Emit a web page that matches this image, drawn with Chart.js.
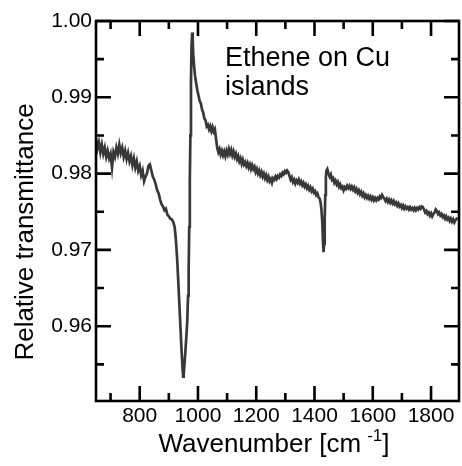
<!DOCTYPE html>
<html>
<head>
<meta charset="utf-8">
<script src="https://cdn.jsdelivr.net/npm/chart.js@4"></script>
<style>
  html, body { margin: 0; padding: 0; background: #fff; }
  #chart { display: block; }
</style>
</head>
<body>
<canvas id="chart" width="462" height="466"></canvas>
<script>
// Spectrum, split into stretches (wavenumber in cm-1, relative transmittance)
const wnLow = [650,655,660,665,670,675,680,685,690,695,
    700,705,710,715,720,725,730,735,740,745,
    750,755,760,765,770,775,780,785,790,795,
    800,805,810,815,820,825,830,835,840,845,
    850,855,860,865,870];
const trLow = [0.9846,0.9833,0.9841,0.9828,0.9838,0.9826,0.9834,0.9822,0.9830,0.9820,
    0.9826,0.9808,0.9828,0.9822,0.9834,0.9826,0.9838,0.9827,0.9834,0.9822,
    0.9830,0.9819,0.9827,0.9816,0.9823,0.9811,0.9820,0.9808,0.9816,0.9804,
    0.9810,0.9798,0.9804,0.9790,0.9796,0.9800,0.9810,0.9812,0.9804,0.9796,
    0.9792,0.9786,0.9778,0.9774,0.9766];

// the big derivative-shaped band around 950-980
const wnBand = [875,880,885,890,895,900,905,910,915,920,
    924,928,932,936,940,944,947,949,951,954,
    957,960,963,966,968,970,972,974,976,978,
    980,982,984,987,990,994,998];
const trBand = [0.9760,0.9757,0.9752,0.9754,0.9746,0.9744,0.9741,0.9740,0.9737,0.9730,
    0.9714,0.9692,0.9662,0.9630,0.9598,0.9566,0.9545,0.9534,0.9537,0.9552,
    0.9568,0.9586,0.9605,0.9640,0.9672,0.9730,0.9790,0.9850,0.9920,0.9968,
    0.9985,0.9975,0.9955,0.9940,0.9928,0.9918,0.9909];

const wnMid = [1002,1006,1010,1014,1018,1022,1026,1030,1034,1038,
    1042,1046,1050,1054,1058,1062,1066,1070,1074,1078,
    1082,1086,1090,1094,1098,1102,1106,1110,1114,1118,
    1122,1126,1130,1134,1138,1142,1146,1150,1154,1158,
    1162,1166,1170,1174,1178,1182,1186,1190,1194,1198,
    1202,1206,1210,1214,1218,1222,1226,1230,1234,1238,
    1242,1246,1250,1254,1258,1262,1266,1270,1274,1278,
    1282,1286,1290,1294,1298,1302,1306,1310,1314,1318,
    1322,1326,1330,1334,1338,1342,1346,1350,1354,1358,
    1362,1366,1370,1374,1378,1382,1386,1390,1394,1398,
    1402,1406,1410,1414,1418];
const trMid = [0.9902,0.9895,0.9892,0.9884,0.9880,0.9872,0.9870,0.9862,0.9864,0.9858,
    0.9862,0.9856,0.9861,0.9855,0.9858,0.9846,0.9834,0.9828,0.9832,0.9825,
    0.9830,0.9824,0.9829,0.9823,0.9830,0.9825,0.9832,0.9826,0.9831,0.9824,
    0.9829,0.9822,0.9826,0.9819,0.9823,0.9816,0.9820,0.9813,0.9818,0.9812,
    0.9815,0.9810,0.9814,0.9808,0.9812,0.9806,0.9811,0.9806,0.9809,0.9802,
    0.9806,0.9800,0.9804,0.9798,0.9802,0.9796,0.9800,0.9794,0.9798,0.9792,
    0.9796,0.9790,0.9793,0.9788,0.9794,0.9792,0.9796,0.9793,0.9797,0.9795,
    0.9799,0.9797,0.9801,0.9799,0.9803,0.9801,0.9804,0.9802,0.9797,0.9792,
    0.9795,0.9789,0.9792,0.9787,0.9791,0.9788,0.9792,0.9787,0.9790,0.9785,
    0.9788,0.9783,0.9786,0.9781,0.9784,0.9779,0.9782,0.9777,0.9780,0.9775,
    0.9777,0.9772,0.9774,0.9769,0.9767];

// sharp dip near 1430
const wnDip = [1421,1424,1427,1429,1431,1433,1435,1437,1439,1441];
const trDip = [0.9762,0.9752,0.9735,0.9712,0.9697,0.9708,0.9740,0.9772,0.9795,0.9804];

const wnHigh = [1444,1448,1452,1456,1460,1464,1468,1472,1476,1480,
    1484,1488,1492,1496,1500,1504,1508,1512,1516,1520,
    1524,1528,1532,1536,1540,1544,1548,1552,1556,1560,
    1564,1568,1572,1576,1580,1584,1588,1592,1596,1600,
    1604,1608,1612,1616,1620,1624,1628,1632,1636,1640,
    1644,1648,1652,1656,1660,1664,1668,1672,1676,1680,
    1684,1688,1692,1696,1700,1704,1708,1712,1716,1720,
    1724,1728,1732,1736,1740,1744,1748,1752,1756,1760,
    1764,1768,1772,1776,1780,1784,1788,1792,1796,1800,
    1804,1808,1812,1816,1820,1824,1828,1832,1836,1840,
    1844,1848,1852,1856,1860,1864,1868,1872,1876,1880,
    1884,1888,1892];
const trHigh = [0.9806,0.9800,0.9796,0.9799,0.9792,0.9794,0.9788,0.9791,0.9786,0.9789,
    0.9783,0.9786,0.9781,0.9783,0.9778,0.9782,0.9780,0.9784,0.9781,0.9784,
    0.9780,0.9783,0.9779,0.9782,0.9777,0.9780,0.9775,0.9778,0.9773,0.9776,
    0.9771,0.9774,0.9769,0.9772,0.9768,0.9771,0.9767,0.9770,0.9766,0.9769,
    0.9765,0.9768,0.9765,0.9768,0.9766,0.9770,0.9768,0.9772,0.9769,0.9767,
    0.9764,0.9767,0.9763,0.9766,0.9762,0.9765,0.9761,0.9764,0.9760,0.9762,
    0.9758,0.9761,0.9757,0.9759,0.9755,0.9758,0.9754,0.9757,0.9754,0.9756,
    0.9753,0.9756,0.9753,0.9755,0.9752,0.9755,0.9752,0.9755,0.9753,0.9756,
    0.9754,0.9757,0.9756,0.9753,0.9749,0.9751,0.9747,0.9749,0.9745,0.9748,
    0.9744,0.9747,0.9749,0.9753,0.9751,0.9747,0.9749,0.9745,0.9747,0.9743,
    0.9745,0.9741,0.9744,0.9740,0.9742,0.9738,0.9741,0.9737,0.9740,0.9736,
    0.9739,0.9741,0.9742];

// axis ticks
const xMajorTicks = [800, 1000, 1200, 1400, 1600, 1800];
const xMinorTicks = [700, 900, 1100, 1300, 1500, 1700];
const yMajorTicks = [0.96, 0.97, 0.98, 0.99, 1.00];
const yMinorTicks = [0.955, 0.965, 0.975, 0.985, 0.995];

const FONT = "'Liberation Sans', Arial, Helvetica, sans-serif";

const wavenumber = [].concat(wnLow, wnBand, wnMid, wnDip, wnHigh);
const transmittance = [].concat(trLow, trBand, trMid, trDip, trHigh);
const points = wavenumber.map((x, i) => ({ x: x, y: transmittance[i] }));

// box around the plot with inward ticks on all four sides, plus the texts
const frameAndText = {
    id: 'frameAndText',
    afterDatasetsDraw(chart) {
        const ctx = chart.ctx;
        const a = chart.chartArea;
        const xs = chart.scales.x;
        const ys = chart.scales.y;
        ctx.save();
        ctx.strokeStyle = '#000';
        ctx.lineWidth = 2.6;
        ctx.strokeRect(a.left, a.top, a.right - a.left, a.bottom - a.top);

        ctx.beginPath();
        const xTick = (v, len) => {
            const px = xs.getPixelForValue(v);
            ctx.moveTo(px, a.bottom); ctx.lineTo(px, a.bottom - len);
            ctx.moveTo(px, a.top); ctx.lineTo(px, a.top + len);
        };
        const yTick = (v, len) => {
            const py = ys.getPixelForValue(v);
            ctx.moveTo(a.left, py); ctx.lineTo(a.left + len, py);
            ctx.moveTo(a.right, py); ctx.lineTo(a.right - len, py);
        };
        xMajorTicks.forEach(v => xTick(v, 15));
        xMinorTicks.forEach(v => xTick(v, 8));
        yMajorTicks.forEach(v => yTick(v, 15));
        yMinorTicks.forEach(v => yTick(v, 8));
        ctx.stroke();

        ctx.fillStyle = '#000';
        ctx.textBaseline = 'alphabetic';
        ctx.textAlign = 'left';

        // annotation
        ctx.font = '27px ' + FONT;
        ctx.fillText('Ethene on Cu', 225, 66);
        ctx.fillText('islands', 225, 95);

        // y title
        ctx.save();
        ctx.translate(33, 232);
        ctx.rotate(-Math.PI / 2);
        ctx.textAlign = 'center';
        ctx.font = '26px ' + FONT;
        ctx.fillText('Relative transmittance', 0, 0);
        ctx.restore();

        // x title with superscript
        ctx.font = '26px ' + FONT;
        const main = 'Wavenumber [cm';
        const sup = '-1';
        const close = ']';
        const wMain = ctx.measureText(main).width;
        ctx.font = '17px ' + FONT;
        const wSup = ctx.measureText(sup).width;
        ctx.font = '26px ' + FONT;
        const wClose = ctx.measureText(close).width;
        const gap = 6;
        const total = wMain + gap + wSup + wClose;
        let tx = 274 - total / 2;
        const base = 452;
        ctx.fillText(main, tx, base);
        tx += wMain + gap;
        ctx.font = '17px ' + FONT;
        ctx.fillText(sup, tx, base - 11);
        tx += wSup;
        ctx.font = '26px ' + FONT;
        ctx.fillText(close, tx, base);
        ctx.restore();
    }
};

const ctx = document.getElementById('chart').getContext('2d');
const chart = new Chart(ctx, {
    type: 'line',
    data: {
        datasets: [{
            data: points,
            borderColor: '#383838',
            borderWidth: 2.7,
            pointRadius: 0,
            tension: 0,
            fill: false
        }]
    },
    options: {
        responsive: false,
        animation: false,
        layout: { padding: { top: 21, right: 3, left: 0, bottom: 0 } },
        plugins: {
            legend: { display: false },
            tooltip: { enabled: false }
        },
        scales: {
            x: {
                type: 'linear',
                min: 650,
                max: 1896,
                grid: { display: false, drawTicks: false },
                border: { display: false },
                afterBuildTicks: scale => {
                    scale.ticks = xMajorTicks.map(v => ({ value: v }));
                },
                afterFit: scale => { scale.height = 65; },
                ticks: {
                    color: '#000',
                    padding: 3,
                    maxRotation: 0,
                    autoSkip: false,
                    font: { family: FONT, size: 21 },
                    callback: v => String(v)
                }
            },
            y: {
                type: 'linear',
                min: 0.9502,
                max: 1.0,
                grid: { display: false, drawTicks: false },
                border: { display: false },
                afterBuildTicks: scale => {
                    scale.ticks = yMajorTicks.map(v => ({ value: v }));
                },
                afterFit: scale => { scale.width = 96; },
                ticks: {
                    color: '#000',
                    padding: 4,
                    autoSkip: false,
                    font: { family: FONT, size: 21 },
                    callback: v => v.toFixed(2)
                }
            }
        }
    },
    plugins: [frameAndText]
});
</script>
</body>
</html>
